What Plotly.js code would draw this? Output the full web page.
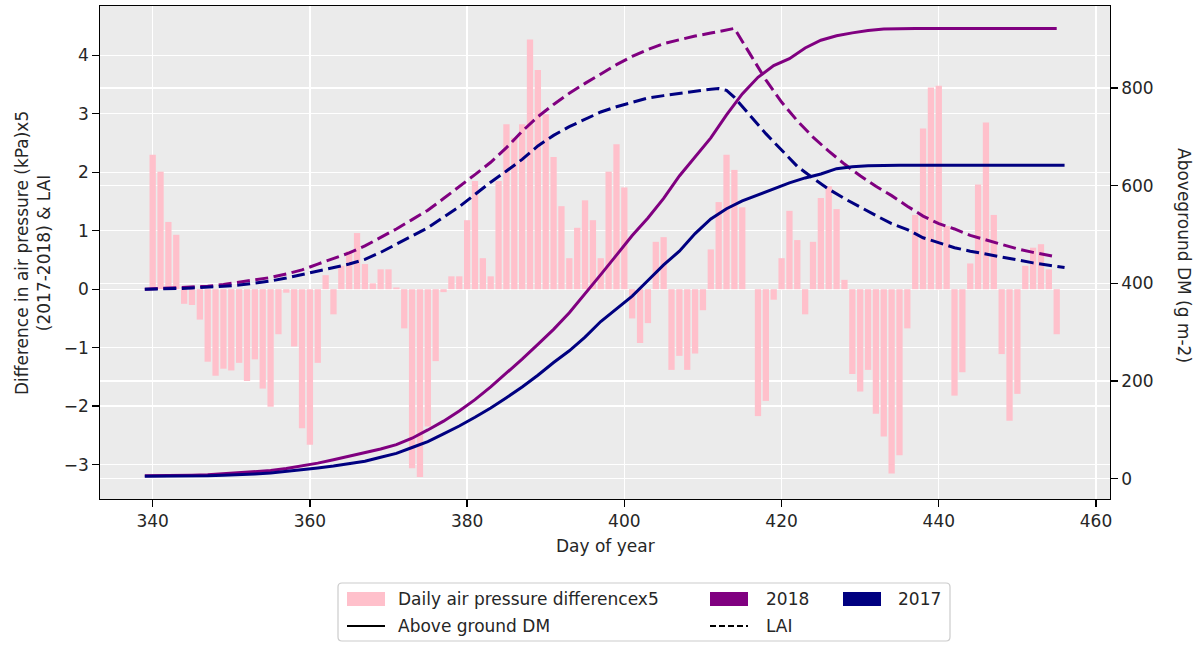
<!DOCTYPE html>
<html>
<head>
<meta charset="utf-8">
<script src="https://cdn.plot.ly/plotly-3.0.1.min.js"></script>
<style>html,body{margin:0;padding:0;background:#fff;}#chart{width:1203px;height:645px;}</style>
</head>
<body>
<div id="chart"></div>
<script>
// ---- Data ----
const barDays = [340,341,342,343,344,345,346,347,348,349,350,351,352,353,354,355,356,357,358,359,
  360,361,362,363,364,365,366,367,368,369,370,371,372,373,374,375,376,377,378,379,
  380,381,382,383,384,385,386,387,388,389,390,391,392,393,394,395,396,397,398,399,
  400,401,402,403,404,405,406,407,408,409,410,411,412,413,414,415,416,417,418,419,
  420,421,422,423,424,425,426,427,428,429,430,431,432,433,434,435,436,437,438,439,
  440,441,442,443,444,445,446,447,448,449,450,451,452,453,454,455];
const pressureDiffX5 = [2.30,2.01,1.15,0.93,-0.25,-0.27,-0.52,-1.24,-1.48,-1.36,-1.39,-1.26,-1.57,-1.20,-1.70,-2.01,-0.77,-0.06,-0.98,-2.38,
  -2.66,-1.26,0.24,-0.43,0.40,0.65,0.96,0.43,0.10,0.34,0.34,0.03,-0.67,-3.06,-3.21,-2.35,-1.23,-0.05,0.22,0.22,
  1.18,1.85,0.53,0.22,1.85,2.82,2.59,2.82,4.27,3.75,2.99,2.26,1.42,0.53,1.05,1.52,1.18,0.53,2.01,2.48,
  1.74,-0.50,-0.92,-0.58,0.81,0.89,-1.38,-1.14,-1.38,-1.10,-0.36,0.68,1.49,2.30,2.04,1.40,0.00,-2.17,-1.91,-0.18,
  0.53,1.34,0.84,-0.43,0.81,1.56,1.76,1.37,0.16,-1.45,-1.75,-1.38,-2.13,-2.52,-3.15,-2.84,-0.67,1.27,2.75,3.45,
  3.48,1.08,-1.82,-1.42,0.44,1.79,2.85,1.27,-1.11,-2.25,-1.79,0.40,0.71,0.77,0.34,-0.77];

const laiDays2018 = [339,341,343,345,347,349,351,353,355,357,359,361,363,365,367,369,371,373,375,377,
  379,381,383,385,387,389,391,393,395,397,399,401,403,405,407,409,411,413,414,416,
  418,420,422,424,426,428,430,432,434,436,438,440,442,444,446,448,450,452,454,455];
const lai2018 = [0.00,0.01,0.02,0.03,0.05,0.08,0.12,0.16,0.20,0.26,0.33,0.43,0.53,0.62,0.74,0.88,1.03,1.19,1.35,1.55,
  1.75,1.96,2.17,2.42,2.70,2.95,3.16,3.35,3.52,3.68,3.84,3.98,4.10,4.20,4.27,4.33,4.38,4.43,4.46,4.02,
  3.58,3.20,2.88,2.60,2.36,2.14,1.94,1.76,1.60,1.42,1.25,1.12,1.03,0.92,0.84,0.76,0.69,0.63,0.57,0.55];

const laiDays2017 = [339,341,343,345,347,349,351,353,355,357,359,361,363,365,367,369,371,373,375,377,
  379,381,383,385,387,389,391,393,395,397,399,401,403,405,407,409,411,412,413,414,
  416,418,420,422,424,426,428,430,432,434,436,438,440,442,444,446,448,450,452,454,456];
const lai2017 = [0.00,0.00,0.01,0.02,0.03,0.05,0.07,0.10,0.14,0.19,0.25,0.30,0.37,0.43,0.51,0.63,0.77,0.91,1.05,1.23,
  1.41,1.62,1.83,2.02,2.22,2.45,2.63,2.78,2.90,3.03,3.12,3.20,3.27,3.31,3.35,3.39,3.42,3.43,3.40,3.28,
  2.96,2.66,2.38,2.10,1.90,1.71,1.55,1.40,1.26,1.12,1.02,0.88,0.80,0.71,0.65,0.60,0.55,0.49,0.45,0.41,0.37];

const dmDays2018 = [339,341,343,345,347,349,351,353,355,357,359,361,363,365,367,369,371,373,375,377,
  379,381,383,385,387,389,391,393,395,397,399,401,403,405,407,409,411,413,415,417,
  419,421,423,425,427,429,431,433,435,437,439,441,443,445,447,449,451,453,455];
const dm2018 = [6,6,7,7,8,10,12,14,17,21,26,32,39,46,53,61,70,83,100,118,
  139,162,188,216,245,275,306,340,378,418,458,498,534,574,620,660,698,745,788,822,
  846,860,882,898,907,913,918,921,922,922,922,922,922,922,922,922,922,922,922];

const dmDays2017 = [339,341,343,345,347,349,351,353,355,357,359,361,363,365,367,369,371,373,375,377,
  379,381,383,385,387,389,391,393,395,397,399,401,403,405,407,409,411,413,415,417,
  419,421,423,425,427,429,431,433,435,437,439,441,443,445,447,449,451,453,455,456];
const dm2017 = [5,5,5,6,6,7,8,10,12,15,18,22,26,31,36,44,52,64,76,92,
  108,126,145,166,188,212,238,262,290,322,348,374,406,438,466,502,532,553,569,581,
  594,606,616,624,635,639,641,642,642,642,642,642,642,642,642,642,642,642,642,642];

const xTicks = [340,360,380,400,420,440,460];
const yTicks = [-3,-2,-1,0,1,2,3,4];
const y2Ticks = [0,200,400,600,800];

const legendLabels = ['Daily air pressure differencex5','2018','2017','Above ground DM','LAI'];

// ---- Styling ----
const PINK = '#FFC0CB', PURPLE = '#800080', NAVY = '#000080';
const FONT = 'DejaVu Sans';
const TXT = '#262626';
const FS = 17;
const L = 100, R = 1110, T = 6, B = 499;
const px = x => (x - L) / (R - L);
const py = y => (B - y) / (B - T);

const traces = [
  {type:'bar', x:barDays, y:pressureDiffX5, width:0.8, marker:{color:PINK, line:{width:0}},
   showlegend:false, hoverinfo:'x+y'},
  {type:'scatter', mode:'lines', x:laiDays2018, y:lai2018, line:{color:PURPLE, width:3, dash:'13px,5.5px'}, showlegend:false},
  {type:'scatter', mode:'lines', x:laiDays2017, y:lai2017, line:{color:NAVY, width:3, dash:'13px,5.5px'}, showlegend:false},
  {type:'scatter', mode:'lines', x:dmDays2018, y:dm2018, yaxis:'y2', line:{color:PURPLE, width:3}, showlegend:false},
  {type:'scatter', mode:'lines', x:dmDays2017, y:dm2017, yaxis:'y2', line:{color:NAVY, width:3}, showlegend:false}
];

const axisCommon = {
  showline:true, linecolor:'#000', linewidth:1.3,
  ticks:'outside', ticklen:6.5, tickwidth:1.3, tickcolor:'#000',
  showgrid:true, gridcolor:'#ffffff', gridwidth:1.3,
  zeroline:false,
  tickfont:{family:FONT, size:FS, color:TXT}
};

function rectShape(x0,y0,x1,y1,fill){
  return {type:'rect', xref:'paper', yref:'paper', x0:px(x0), x1:px(x1), y0:py(y1), y1:py(y0),
          fillcolor:fill, line:{width:0}};
}
function lineShape(x0,x1,y,dash){
  return {type:'line', xref:'paper', yref:'paper', x0:px(x0), x1:px(x1), y0:py(y), y1:py(y),
          line:{color:'#000', width:1.8, dash:dash||'solid'}};
}
function roundBox(x0,y0,x1,y1,r){
  const rx = r/(R-L), ry = r/(B-T);
  const X0=px(x0), X1=px(x1), Y0=py(y1), Y1=py(y0);
  const p = `M ${X0+rx},${Y0} L ${X1-rx},${Y0} Q ${X1},${Y0} ${X1},${Y0+ry} L ${X1},${Y1-ry} Q ${X1},${Y1} ${X1-rx},${Y1} `+
            `L ${X0+rx},${Y1} Q ${X0},${Y1} ${X0},${Y1-ry} L ${X0},${Y0+ry} Q ${X0},${Y0} ${X0+rx},${Y0} Z`;
  return {type:'path', xref:'paper', yref:'paper', path:p, fillcolor:'rgba(255,255,255,0.8)',
          line:{color:'#cccccc', width:1.2}};
}
function legText(x,y,t){
  return {xref:'paper', yref:'paper', x:px(x), y:py(y), text:t, showarrow:false,
          xanchor:'left', yanchor:'middle', font:{family:FONT, size:FS, color:TXT}};
}

const shapes = [
  roundBox(338,583,950,641,4),
  rectShape(347,592,385,606,PINK),
  rectShape(710,592,748,606,PURPLE),
  rectShape(843,592,881,606,NAVY),
  lineShape(347,385,626),
  lineShape(710,748,626,'6px,3px')
];

const annotations = [
  legText(396,599,legendLabels[0]),
  legText(764,599,legendLabels[1]),
  legText(896,599,legendLabels[2]),
  legText(396,626,legendLabels[3]),
  legText(764,626,legendLabels[4]),
  {xref:'paper', yref:'paper', x:px(605), y:py(546), text:'Day of year', showarrow:false,
   xanchor:'center', yanchor:'middle', font:{family:FONT, size:FS, color:TXT}},
  {xref:'paper', yref:'paper', x:px(33), y:py(253), text:'Difference in air pressure (kPa)x5<br>(2017-2018) &amp; LAI',
   showarrow:false, textangle:-90, xanchor:'center', yanchor:'middle', font:{family:FONT, size:FS, color:TXT}},
  {xref:'paper', yref:'paper', x:px(1184), y:py(255), text:'Aboveground DM (g m-2)',
   showarrow:false, textangle:90, xanchor:'center', yanchor:'middle', font:{family:FONT, size:FS, color:TXT}}
];

const layout = {
  width:1203, height:645,
  margin:{l:L, r:1203-R, t:T, b:645-B, pad:0},
  paper_bgcolor:'#ffffff', plot_bgcolor:'#EBEBEB',
  font:{family:FONT, size:FS, color:TXT},
  showlegend:false,
  xaxis:Object.assign({}, axisCommon, {range:[333.30,461.78], tickvals:xTicks, mirror:true}),
  yaxis:Object.assign({}, axisCommon, {range:[-3.588,4.843], tickvals:yTicks, mirror:true}),
  yaxis2:Object.assign({}, axisCommon, {range:[-41.4,968], tickvals:y2Ticks, overlaying:'y', side:'right'}),
  shapes:shapes,
  annotations:annotations
};

Plotly.newPlot('chart', traces, layout, {staticPlot:true, displayModeBar:false});
</script>
</body>
</html>
